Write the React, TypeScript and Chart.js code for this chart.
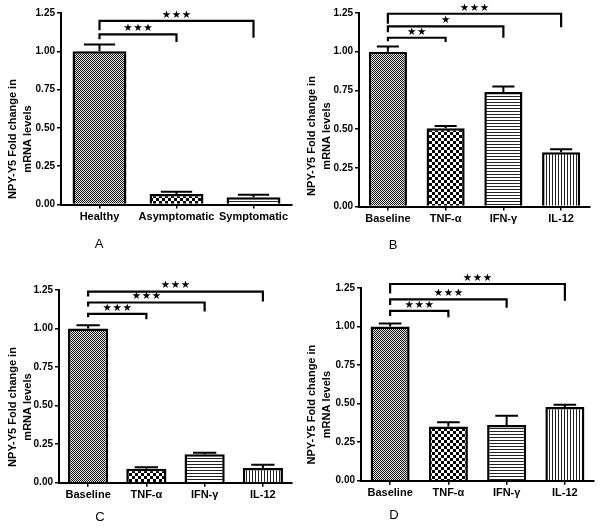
import React, { useEffect, useRef } from "react";
import { Chart, registerables } from "chart.js";

Chart.register(...registerables);

// ---------- data ----------
const yMin = 0;
const yMax = 1.25;
const yStep = 0.25;

const catsA = ["Healthy", "Asymptomatic", "Symptomatic"];
const meanA = [1.0, 0.068, 0.048];
const errA = [0.044, 0.015, 0.015];

const catsCyt = ["Baseline", "TNF-α", "IFN-γ", "IL-12"];

const meanB = [1.0, 0.505, 0.74, 0.35];
const errB = [0.034, 0.015, 0.036, 0.02];

const meanC = [1.0, 0.09, 0.185, 0.095];
const errC = [0.022, 0.01, 0.01, 0.022];

const meanD = [1.0, 0.352, 0.362, 0.478];
const errD = [0.02, 0.027, 0.06, 0.015];

// [fromIndex, toIndex, lineValue, leftDropValue, rightDropValue, stars]
const bracketsA: [number, number, number, number, number, string][] = [
  [0, 1, 1.111, 1.078, 1.06, "***"],
  [0, 2, 1.198, 1.137, 1.089, "***"],
];
const bracketsB: [number, number, number, number, number, string][] = [
  [0, 1, 1.09, 1.068, 1.062, "**"],
  [0, 2, 1.163, 1.126, 1.09, "*"],
  [0, 3, 1.245, 1.18, 1.158, "***"],
];
const bracketsC: [number, number, number, number, number, string][] = [
  [0, 1, 1.095, 1.074, 1.061, "***"],
  [0, 2, 1.169, 1.143, 1.11, "***"],
  [0, 3, 1.24, 1.208, 1.175, "***"],
];
const bracketsD: [number, number, number, number, number, string][] = [
  [0, 1, 1.102, 1.068, 1.06, "***"],
  [0, 2, 1.176, 1.139, 1.122, "***"],
  [0, 3, 1.276, 1.215, 1.167, "***"],
];

const yTitle = ["NPY-Y5 Fold change in", "mRNA levels"];
const patternsA = ["fine", "check", "hlines"];
const patternsCyt = ["fine", "check", "hlines", "vlines"];

const FONT = "'Liberation Sans', Arial, Helvetica, sans-serif";

// ---------- patterns ----------
function makePattern(kind: string): CanvasPattern | string {
  const c = document.createElement("canvas");
  const g = c.getContext("2d");
  if (!g) return "#888";
  if (kind === "fine") {
    c.width = 2; c.height = 2;
    g.fillStyle = "#e8e8e8"; g.fillRect(0, 0, 2, 2);
    g.fillStyle = "#111"; g.fillRect(0, 0, 1, 1); g.fillRect(1, 1, 1, 1);
  } else if (kind === "check") {
    c.width = 6; c.height = 6;
    g.fillStyle = "#fff"; g.fillRect(0, 0, 6, 6);
    g.fillStyle = "#000"; g.fillRect(0, 0, 3, 3); g.fillRect(3, 3, 3, 3);
  } else if (kind === "hlines") {
    c.width = 3; c.height = 3;
    g.fillStyle = "#fff"; g.fillRect(0, 0, 3, 3);
    g.fillStyle = "#222"; g.fillRect(0, 0, 3, 1);
  } else {
    c.width = 3; c.height = 3;
    g.fillStyle = "#fff"; g.fillRect(0, 0, 3, 3);
    g.fillStyle = "#222"; g.fillRect(0, 0, 1, 3);
  }
  const p = g.createPattern(c, "repeat");
  return p || "#888";
}

// ---------- overlay plugin: error bars, brackets, titles ----------
const overlayPlugin = {
  id: "overlay",
  afterDraw(chart: any, _args: any, opts: any) {
    const { ctx } = chart;
    const xs = chart.scales.x;
    const ys = chart.scales.y;
    const meta = chart.getDatasetMeta(0);
    ctx.save();
    ctx.strokeStyle = "#000";
    ctx.fillStyle = "#000";
    ctx.lineWidth = 2;
    ctx.lineCap = "butt";

    // error bars (upper whisker only)
    (opts.means as number[]).forEach((m, i) => {
      const bar = meta.data[i];
      if (!bar) return;
      const cx = bar.x;
      const w = bar.width;
      const yTop = ys.getPixelForValue(m);
      const yErr = ys.getPixelForValue(m + opts.errs[i]);
      ctx.beginPath();
      ctx.moveTo(cx, yTop);
      ctx.lineTo(cx, yErr);
      ctx.moveTo(cx - w * 0.29, yErr);
      ctx.lineTo(cx + w * 0.29, yErr);
      ctx.stroke();
    });

    // significance brackets
    ctx.lineWidth = 2.2;
    ctx.lineJoin = "miter";
    (opts.brackets as [number, number, number, number, number, string][]).forEach(
      ([a, b, h, hl, hr, stars]) => {
        const x1 = xs.getPixelForValue(a);
        const x2 = xs.getPixelForValue(b);
        const yh = ys.getPixelForValue(h);
        ctx.beginPath();
        ctx.moveTo(x1, ys.getPixelForValue(hl));
        ctx.lineTo(x1, yh);
        ctx.lineTo(x2, yh);
        ctx.lineTo(x2, ys.getPixelForValue(hr));
        ctx.stroke();
        const n = stars.length;
        const mid = (x1 + x2) / 2;
        ctx.font = `10.5px 'DejaVu Sans', sans-serif`;
        ctx.textAlign = "center";
        ctx.textBaseline = "middle";
        for (let k = 0; k < n; k++) {
          ctx.fillText("★", mid + (k - (n - 1) / 2) * 10, yh - 6);
        }
      }
    );

    // y axis title (two lines, rotated)
    ctx.font = `bold 11px ${FONT}`;
    ctx.textAlign = "center";
    ctx.textBaseline = "middle";
    ctx.save();
    ctx.translate(opts.titleX, opts.titleY);
    ctx.rotate(-Math.PI / 2);
    (opts.title as string[]).forEach((line, i) => ctx.fillText(line, 0, i * 15));
    ctx.restore();

    // panel letter
    ctx.font = `13px ${FONT}`;
    ctx.fillText(opts.letter, opts.letterX, opts.letterY);
    ctx.restore();
  },
};

type Panel = {
  letter: string;
  left: number;
  top: number;
  w: number;
  h: number;
  cats: string[];
  means: number[];
  errs: number[];
  brackets: [number, number, number, number, number, string][];
  patterns: string[];
  chartLeft: number;
  chartTop: number;
  chartBottom: number;
  chartRight: number;
  barPct: number;
  titleX: number;
  titleY: number;
  letterX: number;
  letterY: number;
};

const panels: Panel[] = [
  {
    letter: "A", left: 0, top: 0, w: 300, h: 260,
    cats: catsA, means: meanA, errs: errA, brackets: bracketsA, patterns: patternsA,
    chartLeft: 61, chartTop: 13, chartBottom: 204.5, chartRight: 292, barPct: 0.7,
    titleX: 13, titleY: 139, letterX: 99, letterY: 244,
  },
  {
    letter: "B", left: 300, top: 0, w: 300, h: 260,
    cats: catsCyt, means: meanB, errs: errB, brackets: bracketsB, patterns: patternsCyt,
    chartLeft: 59, chartTop: 13, chartBottom: 206.5, chartRight: 290, barPct: 0.66,
    titleX: 12, titleY: 136, letterX: 93, letterY: 245,
  },
  {
    letter: "C", left: 0, top: 260, w: 300, h: 267,
    cats: catsCyt, means: meanC, errs: errC, brackets: bracketsC, patterns: patternsCyt,
    chartLeft: 59, chartTop: 30, chartBottom: 222.7, chartRight: 292, barPct: 0.69,
    titleX: 13, titleY: 147, letterX: 100, letterY: 257,
  },
  {
    letter: "D", left: 300, top: 260, w: 300, h: 267,
    cats: catsCyt, means: meanD, errs: errD, brackets: bracketsD, patterns: patternsCyt,
    chartLeft: 61, chartTop: 28, chartBottom: 220.7, chartRight: 294, barPct: 0.67,
    titleX: 12, titleY: 144.6, letterX: 94, letterY: 255,
  },
];

function BarPanel({ p }: { p: Panel }) {
  const ref = useRef<HTMLCanvasElement | null>(null);
  useEffect(() => {
    if (!ref.current) return;
    const chart = new Chart(ref.current, {
      type: "bar",
      data: {
        labels: p.cats,
        datasets: [
          {
            data: p.means,
            backgroundColor: p.patterns.map((k) => makePattern(k)) as any,
            borderColor: "#000",
            borderWidth: 2.5,
            barPercentage: p.barPct,
            categoryPercentage: 1,
          },
        ],
      },
      options: {
        responsive: false,
        animation: false,
        events: [],
        layout: {
          padding: { left: 0, top: p.chartTop, right: p.w - p.chartRight, bottom: 0 },
        },
        plugins: {
          legend: { display: false },
          tooltip: { enabled: false },
          overlay: {
            means: p.means,
            errs: p.errs,
            brackets: p.brackets,
            title: yTitle,
            titleX: p.titleX,
            titleY: p.titleY,
            letter: p.letter,
            letterX: p.letterX,
            letterY: p.letterY,
          },
        } as any,
        scales: {
          x: {
            offset: true,
            grid: {
              display: true,
              drawOnChartArea: false,
              drawTicks: true,
              tickLength: 4,
              offset: false,
              color: "#000",
              lineWidth: 1.5,
            },
            border: { display: true, color: "#000", width: 2 },
            ticks: {
              color: "#000",
              font: { family: FONT, size: 11, weight: "bold" },
              padding: 2,
              maxRotation: 0,
              minRotation: 0,
              autoSkip: false,
            },
            afterFit: (s: any) => {
              s.height = p.h - p.chartBottom;
            },
          },
          y: {
            min: yMin,
            max: yMax,
            grid: {
              display: true,
              drawOnChartArea: false,
              drawTicks: true,
              tickLength: 4,
              color: "#000",
              lineWidth: 1.5,
            },
            border: { display: true, color: "#000", width: 2 },
            ticks: {
              stepSize: yStep,
              color: "#000",
              font: { family: FONT, size: 10, weight: "bold" },
              padding: 2,
              callback: (v: any) => Number(v).toFixed(2),
            },
            afterFit: (s: any) => {
              s.width = p.chartLeft;
            },
          },
        },
      } as any,
      plugins: [overlayPlugin],
    });
    return () => chart.destroy();
  }, [p]);
  return (
    <canvas
      ref={ref}
      width={p.w}
      height={p.h}
      style={{ position: "absolute", left: p.left, top: p.top, width: p.w, height: p.h }}
    />
  );
}

export default function App() {
  return (
    <div
      style={{
        position: "fixed",
        left: 0,
        top: 0,
        width: 600,
        height: 527,
        background: "#fff",
      }}
    >
      {panels.map((p) => (
        <BarPanel key={p.letter} p={p} />
      ))}
    </div>
  );
}
